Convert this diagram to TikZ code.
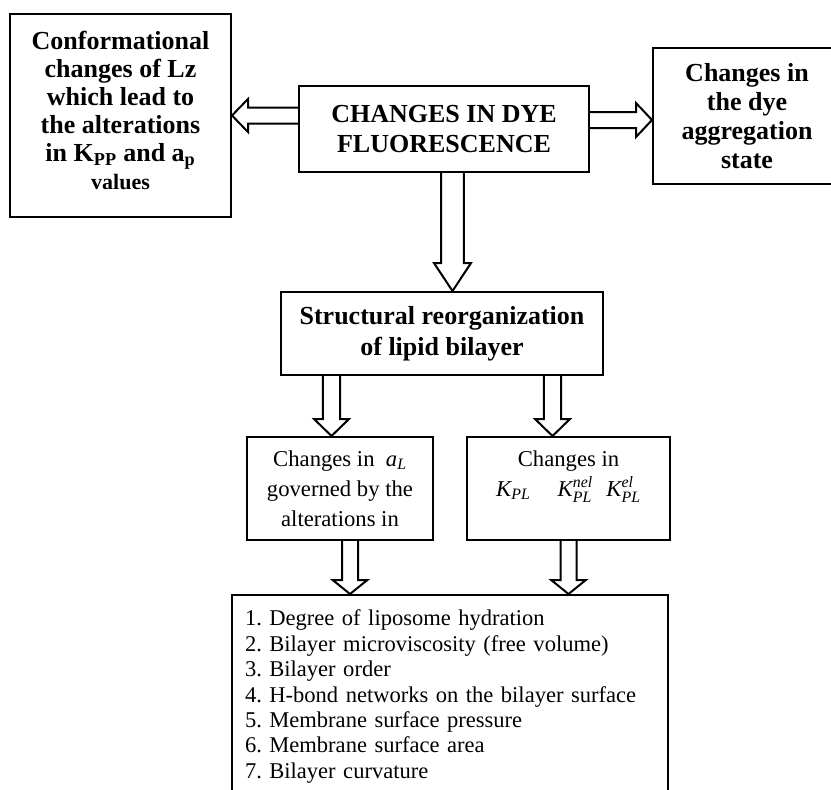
\documentclass[tikz,border=0pt]{standalone}
\usepackage{fontspec}
\setmainfont{Liberation Serif}
\usepackage{amsmath}
\usetikzlibrary{calc}

\newcommand{\itvar}[1]{\text{\itshape #1}}
% hollow block arrow: start, tip, half shaft, half head, head length
\newcommand{\fatarrow}[5]{%
  \coordinate (hb) at ($(#2)!#5!(#1)$);
  \draw[line width=1.5pt] ($(#1)!#3!90:(#2)$) -- ($(hb)!#3!90:(#2)$) -- ($(hb)!#4!90:(#2)$) -- (#2) -- ($(hb)!#4!-90:(#2)$) -- ($(hb)!#3!-90:(#2)$) -- ($(#1)!#3!-90:(#2)$);}

\begin{document}
\begin{tikzpicture}[x=0.75pt,y=0.75pt,yscale=-1,xscale=1,
  box/.style={draw, line width=1.5pt, inner sep=0pt, align=center},
  boldtext/.style={font=\fontsize{19.5}{#1}\selectfont\bfseries},
  plaintext/.style={font=\fontsize{17}{22.5}\selectfont}]
\useasboundingbox (0,0) rectangle (831,789);
\clip (0,0) rectangle (831,789);

%Shape: Rectangle [Lz]
\node[box, boldtext=21, minimum width=165.75pt, minimum height=152.25pt] (lz) at (120.5,115.5) {Conformational\\changes of Lz\\which lead to\\the alterations\\in K\textsubscript{PP} and a\textsubscript{p}\\{\fontsize{16.5}{21}\selectfont values}\rule[-8pt]{0pt}{0pt}};
%Shape: Rectangle [dye]
\node[box, boldtext=22.5, minimum width=217.5pt, minimum height=64.5pt] (dye) at (444,129) {CHANGES IN DYE\\FLUORESCENCE};
%Shape: Rectangle [aggregation]
\node[box, boldtext=21.75, minimum width=141pt, minimum height=102pt] (agg) at (747,116) {Changes in\\the dye\\aggregation\\state};
%Shape: Rectangle [bilayer]
\node[box, boldtext=23.25, minimum width=241.5pt, minimum height=62.25pt] (struct) at (442,333.5) {Structural reorganization\\of lipid bilayer};
%Shape: Rectangle [a_L]
\node[box, plaintext, minimum width=139.5pt, minimum height=77.25pt] (lmid) at (340,488.5) {Changes in\ \ $\itvar{a}_{\itvar{L}}$\\governed by the\\alterations in};
%Shape: Rectangle [K_PL]
\node[box, plaintext, minimum width=152.25pt, minimum height=77.25pt] (rmid) at (568.5,488.5) {Changes in\\$\itvar{K}_{\itvar{PL}}$\hspace{1.2em}$\itvar{K}^{\itvar{nel}}_{\itvar{PL}}$\hspace{0.6em}$\itvar{K}^{\itvar{el}}_{\itvar{PL}}$\\\mbox{}};
%Shape: Rectangle [list]
\node[box, font=\fontsize{16.9}{19.1}\selectfont\frenchspacing, align=left, text width=307.5pt, inner xsep=9.75pt, minimum height=152.25pt] (list) at (450,696.5) {1. Degree of liposome hydration\\2. Bilayer microviscosity (free volume)\\3. Bilayer order\\4. H-bond networks on the bilayer surface\\5. Membrane surface pressure\\6. Membrane surface area\\7. Bilayer curvature};

\coordinate (r1) at ($(dye.east)+(0,-9)$);
\coordinate (d1) at ($(dye.south)+(8.5,0)$);
\coordinate (s1) at ($(struct.south)+(-110.5,0)$);
\coordinate (s2) at ($(struct.south)+(110.5,0)$);
\coordinate (m1) at ($(lmid.south)+(10,0)$);

%Arrows
\fatarrow{dye.west |- lz.east}{lz.east}{6pt}{12.4pt}{12pt}
\fatarrow{r1}{r1 -| agg.west}{6pt}{12.75pt}{12pt}
\fatarrow{d1}{d1 |- struct.north}{8.6pt}{13.9pt}{21pt}
\fatarrow{s1}{s1 |- lmid.north}{6.4pt}{13.1pt}{12.75pt}
\fatarrow{s2}{s2 |- rmid.north}{6.4pt}{13.1pt}{12.75pt}
\fatarrow{m1}{m1 |- list.north}{6pt}{13pt}{10.5pt}
\fatarrow{rmid.south}{rmid.south |- list.north}{6pt}{13pt}{10.5pt}

\end{tikzpicture}
\end{document}
